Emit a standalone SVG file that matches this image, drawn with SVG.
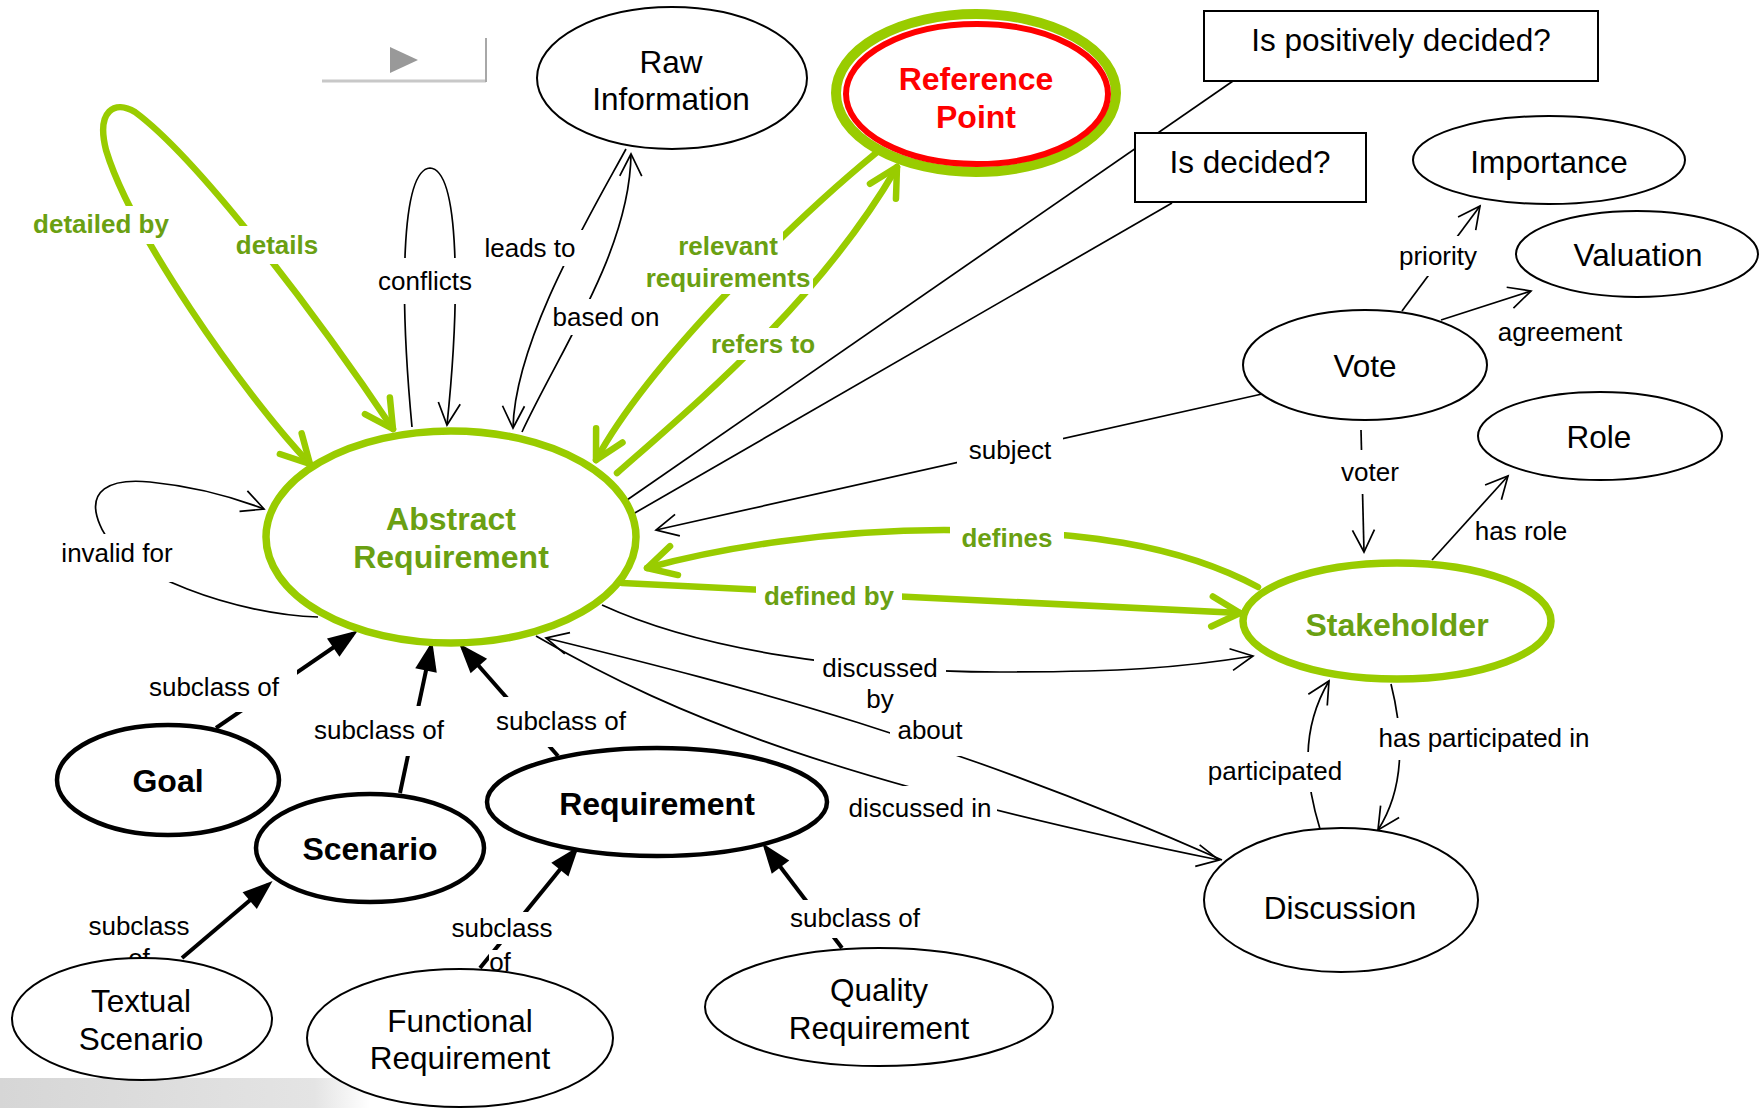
<svg xmlns="http://www.w3.org/2000/svg" width="1760" height="1108" viewBox="0 0 1760 1108">
<defs>
<style>
text { font-family: 'Liberation Sans', Arial, sans-serif; text-anchor: middle; dominant-baseline: central; }
.nt { font-size: 31.5px; fill: #000; }
.nb { font-size: 32px; font-weight: bold; fill: #000; }
.ngt { font-size: 32px; font-weight: bold; fill: #6aa012; }
.nrt { font-size: 32px; font-weight: bold; fill: #ff0000; }
.el { font-size: 26px; fill: #000; }
.gl { font-size: 26px; font-weight: bold; fill: #6aa012; }
.bg { fill: #fff; }
.n { fill: #fff; stroke: #000; stroke-width: 2; }
.nk { fill: #fff; stroke: #000; stroke-width: 4.5; }
.ng { fill: #fff; stroke: #99cc00; stroke-width: 7.5; }
.e { fill: none; stroke: #000; stroke-width: 1.7; }
.eg { fill: none; stroke: #99cc00; stroke-width: 6.5; stroke-linecap: round; }
.es { fill: none; stroke: #000; stroke-width: 4; }
</style>
<marker id="ao" markerUnits="userSpaceOnUse" viewBox="-30 -16 34 32" markerWidth="34" markerHeight="32" refX="0" refY="0" orient="auto-start-reverse">
<path d="M -22 -11 L 0 0 L -22 11" fill="none" stroke="#000" stroke-width="1.7"/>
</marker>
<marker id="ag" markerUnits="userSpaceOnUse" viewBox="-36 -22 42 44" markerWidth="42" markerHeight="44" refX="0" refY="0" orient="auto-start-reverse">
<path d="M -28 -15 L 0 0 L -28 15" fill="none" stroke="#99cc00" stroke-width="6.5" stroke-linecap="round" stroke-linejoin="round"/>
</marker>
<marker id="af" markerUnits="userSpaceOnUse" viewBox="-30 -14 38 28" markerWidth="38" markerHeight="28" refX="0" refY="0" orient="auto">
<path d="M 6 0 L -24 -11 L -24 11 Z" fill="#000"/>
</marker>
<linearGradient id="gband" x1="0" y1="0" x2="1" y2="0">
<stop offset="0" stop-color="#d6d6d6"/>
<stop offset="0.85" stop-color="#e4e4e4"/>
<stop offset="1" stop-color="#ffffff"/>
</linearGradient>
</defs>

<rect width="1760" height="1108" fill="#fff"/>
<rect x="0" y="1078" width="370" height="30" fill="url(#gband)"/>

<g id="play-control">
<line x1="322" y1="81" x2="486" y2="81" stroke="#c8c8c8" stroke-width="3"/>
<line x1="486" y1="38" x2="486" y2="82" stroke="#a8a8a8" stroke-width="2"/>
<polygon points="390,47 418,60 390,73" fill="#999"/>
</g>

<g id="connectors">
<!-- green -->
<path class="eg" d="M 310 464 C 240 390, 130 230, 106 150 C 96 110, 115 100, 135 112 C 200 160, 320 320, 393 429" marker-start="url(#ag)" marker-end="url(#ag)"/>
<path class="eg" d="M 876 153 C 800 215, 650 360, 596 460" marker-end="url(#ag)"/>
<path class="eg" d="M 617 473 C 700 400, 820 300, 897 167" marker-end="url(#ag)"/>
<path class="eg" d="M 1258 587 C 1180 545, 1080 530, 944 530 C 830 530, 720 548, 647 568" marker-end="url(#ag)"/>
<path class="eg" d="M 622 583 C 800 592, 1000 600, 1240 613" marker-end="url(#ag)"/>
<!-- black -->
<path class="e" d="M 412 427 C 400 300, 400 170, 430 168 C 460 170, 460 300, 447 425" marker-end="url(#ao)"/>
<path class="e" d="M 626 149 C 590 215, 515 340, 513 428" marker-end="url(#ao)"/>
<path class="e" d="M 522 432 C 560 350, 630 250, 631 154" marker-end="url(#ao)"/>
<path class="e" d="M 627 500 L 1233 81"/>
<path class="e" d="M 633 514 L 1172 203"/>
<path class="e" d="M 1262 394 L 656 530" marker-end="url(#ao)"/>
<path class="e" d="M 546 638 C 750 688, 950 740, 1222 860" marker-start="url(#ao)"/>
<path class="e" d="M 602 605 C 700 650, 850 672, 1000 672 C 1120 672, 1180 668, 1253 656" marker-end="url(#ao)"/>
<path class="e" d="M 536 636 C 680 720, 850 785, 1219 860" marker-end="url(#ao)"/>
<path class="e" d="M 1402 311 L 1480 206" marker-end="url(#ao)"/>
<path class="e" d="M 1441 320 L 1531 291" marker-end="url(#ao)"/>
<path class="e" d="M 1361 430 L 1364 552" marker-end="url(#ao)"/>
<path class="e" d="M 1432 560 L 1508 476" marker-end="url(#ao)"/>
<path class="e" d="M 1320 829 C 1305 780, 1300 730, 1329 681" marker-end="url(#ao)"/>
<path class="e" d="M 1391 684 C 1400 720, 1410 780, 1378 830" marker-end="url(#ao)"/>
<path class="e" d="M 318 617 C 240 615, 120 575, 100 525 C 85 490, 110 478, 150 482 C 190 486, 230 496, 264 509" marker-end="url(#ao)"/>
<!-- subclass -->
<path class="es" d="M 216 728 L 353 634" marker-end="url(#af)"/>
<path class="es" d="M 400 793 L 431 647" marker-end="url(#af)"/>
<path class="es" d="M 558 756 L 463 648" marker-end="url(#af)"/>
<path class="es" d="M 182 958 L 268 885" marker-end="url(#af)"/>
<path class="es" d="M 480 968 L 575 851" marker-end="url(#af)"/>
<path class="es" d="M 842 948 L 766 848" marker-end="url(#af)"/>

<!-- labels -->
<g><rect class="bg" x="31" y="206" width="140" height="38"/><text class="gl" x="101" y="224">detailed by</text></g>
<g><rect class="bg" x="228" y="226" width="98" height="38"/><text class="gl" x="277" y="245">details</text></g>
<g><rect class="bg" x="673" y="230" width="110" height="32"/><rect class="bg" x="643" y="262" width="170" height="32"/><text class="gl" x="728" y="246">relevant</text><text class="gl" x="728" y="278">requirements</text></g>
<g><rect class="bg" x="703" y="328" width="120" height="32"/><text class="gl" x="763" y="344">refers to</text></g>
<g><rect class="bg" x="950" y="520" width="114" height="36"/><text class="gl" x="1007" y="538">defines</text></g>
<g><rect class="bg" x="756" y="578" width="146" height="36"/><text class="gl" x="829" y="596">defined by</text></g>
<g><rect class="bg" x="378" y="258" width="94" height="46"/><text class="el" x="425" y="281">conflicts</text></g>
<g><rect class="bg" x="476" y="230" width="108" height="36"/><text class="el" x="530" y="248">leads to</text></g>
<g><rect class="bg" x="549" y="299" width="115" height="36"/><text class="el" x="606" y="317">based on</text></g>
<g><rect class="bg" x="957" y="434" width="106" height="32"/><text class="el" x="1010" y="450">subject</text></g>
<g><rect class="bg" x="814" y="652" width="132" height="32"/><rect class="bg" x="866" y="686" width="28" height="26"/><text class="el" x="880" y="668">discussed</text><text class="el" x="880" y="699">by</text></g>
<g><rect class="bg" x="890" y="712" width="82" height="44"/><text class="el" x="930" y="730">about</text></g>
<g><rect class="bg" x="843" y="786" width="154" height="40"/><text class="el" x="920" y="808">discussed in</text></g>
<g><rect class="bg" x="1393" y="236" width="90" height="40"/><text class="el" x="1438" y="256">priority</text></g>
<g><text class="el" x="1560" y="332">agreement</text></g>
<g><rect class="bg" x="1341" y="450" width="58" height="44"/><text class="el" x="1370" y="472">voter</text></g>
<g><text class="el" x="1521" y="531">has role</text></g>
<g><rect class="bg" x="1206" y="752" width="138" height="40"/><text class="el" x="1275" y="771">participated</text></g>
<g><rect class="bg" x="1380" y="718" width="210" height="42"/><text class="el" x="1484" y="738">has participated in</text></g>
<g><rect class="bg" x="58" y="534" width="118" height="48"/><text class="el" x="117" y="553">invalid for</text></g>
<g><rect class="bg" x="147" y="668" width="150" height="44"/><text class="el" x="214" y="687">subclass of</text></g>
<g><rect class="bg" x="314" y="706" width="130" height="50"/><text class="el" x="379" y="730">subclass of</text></g>
<g><rect class="bg" x="496" y="697" width="130" height="50"/><text class="el" x="561" y="721">subclass of</text></g>
<g><rect class="bg" x="88" y="912" width="104" height="32"/><text class="el" x="139" y="926">subclass</text><text class="el" x="139" y="958">of</text></g>
<g><rect class="bg" x="450" y="912" width="104" height="32"/><rect class="bg" x="489" y="950" width="22" height="24"/><text class="el" x="502" y="928">subclass</text><text class="el" x="500" y="962">of</text></g>
<g><rect class="bg" x="790" y="900" width="130" height="38"/><text class="el" x="855" y="918">subclass of</text></g>
</g>

<g id="node-raw-information"><ellipse class="n" cx="672" cy="78" rx="135" ry="71"/><text class="nt" x="671" y="62">Raw</text><text class="nt" x="671" y="99">Information</text></g>
<g id="node-reference-point"><ellipse cx="976" cy="93" rx="140" ry="79" fill="#fff" stroke="#99cc00" stroke-width="10"/><ellipse cx="977" cy="94" rx="131" ry="70" fill="none" stroke="#ff0000" stroke-width="6"/><text class="nrt" x="976" y="79">Reference</text><text class="nrt" x="976" y="117">Point</text></g>
<g id="node-is-positively-decided"><rect x="1204" y="11" width="394" height="70" fill="#fff" stroke="#000" stroke-width="2"/><text class="nt" x="1401" y="40">Is positively decided?</text></g>
<g id="node-is-decided"><rect x="1135" y="133" width="231" height="69" fill="#fff" stroke="#000" stroke-width="2"/><text class="nt" x="1250" y="162">Is decided?</text></g>
<g id="node-importance"><ellipse class="n" cx="1549" cy="160" rx="136" ry="44"/><text class="nt" x="1549" y="162">Importance</text></g>
<g id="node-valuation"><ellipse class="n" cx="1637" cy="254" rx="121" ry="43"/><text class="nt" x="1638" y="255">Valuation</text></g>
<g id="node-vote"><ellipse class="n" cx="1365" cy="365" rx="122" ry="55"/><text class="nt" x="1365" y="366">Vote</text></g>
<g id="node-role"><ellipse class="n" cx="1600" cy="436" rx="122" ry="44"/><text class="nt" x="1599" y="437">Role</text></g>
<g id="node-abstract-requirement"><ellipse class="ng" cx="451" cy="537" rx="185" ry="106"/><text class="ngt" x="451" y="519">Abstract</text><text class="ngt" x="451" y="557">Requirement</text></g>
<g id="node-stakeholder"><ellipse class="ng" cx="1397" cy="621" rx="154" ry="58"/><text class="ngt" x="1397" y="625">Stakeholder</text></g>
<g id="node-discussion"><ellipse class="n" cx="1341" cy="900" rx="137" ry="72"/><text class="nt" x="1340" y="908">Discussion</text></g>
<g id="node-goal"><ellipse class="nk" cx="168" cy="780" rx="111" ry="55"/><text class="nb" x="168" y="781">Goal</text></g>
<g id="node-scenario"><ellipse class="nk" cx="370" cy="848" rx="114" ry="54"/><text class="nb" x="370" y="849">Scenario</text></g>
<g id="node-requirement"><ellipse class="nk" cx="657" cy="802" rx="170" ry="54"/><text class="nb" x="657" y="804">Requirement</text></g>
<g id="node-textual-scenario"><ellipse class="n" cx="142" cy="1019" rx="130" ry="61"/><text class="nt" x="141" y="1001">Textual</text><text class="nt" x="141" y="1039">Scenario</text></g>
<g id="node-functional-requirement"><ellipse class="n" cx="460" cy="1038" rx="153" ry="69"/><text class="nt" x="460" y="1021">Functional</text><text class="nt" x="460" y="1058">Requirement</text></g>
<g id="node-quality-requirement"><ellipse class="n" cx="879" cy="1007" rx="174" ry="59"/><text class="nt" x="879" y="990">Quality</text><text class="nt" x="879" y="1028">Requirement</text></g>
</svg>
